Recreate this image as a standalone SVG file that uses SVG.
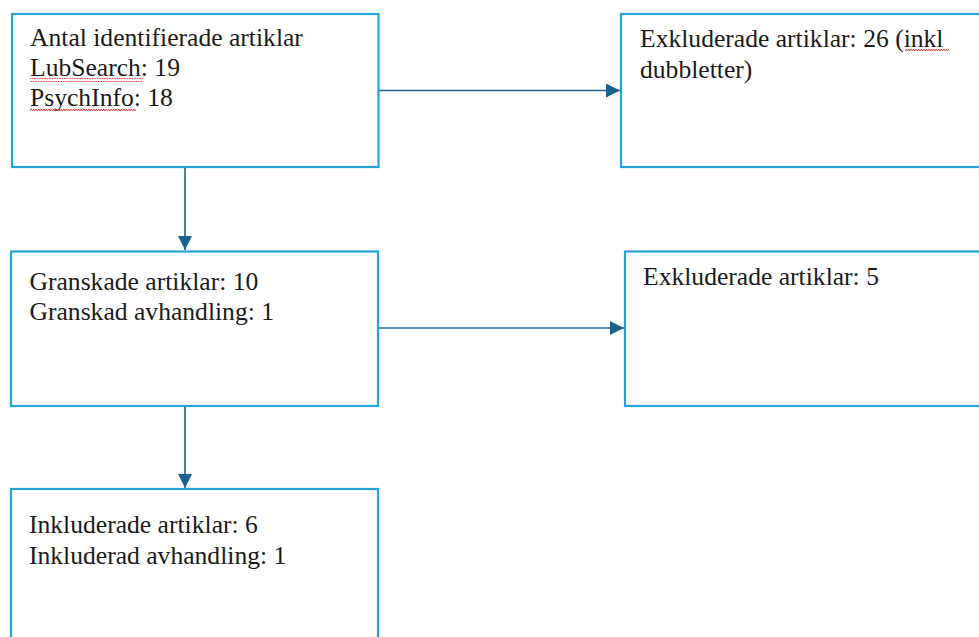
<svg xmlns="http://www.w3.org/2000/svg" width="979" height="637" viewBox="0 0 979 637">
  <style>
    .box { fill: #ffffff; stroke: #22a3db; stroke-width: 2.2; }
    .lbl { font-family: 'Liberation Serif', 'DejaVu Serif', serif; font-size: 25.6px; fill: #1a1a1a; }
    .conn { stroke: #1b628c; stroke-width: 1.6; fill: none; }
  </style>
  <defs>
    <marker id="arrow" markerUnits="userSpaceOnUse" markerWidth="14" markerHeight="14" refX="14" refY="7" orient="auto">
      <path d="M0,0 L14,7 L0,14 z" fill="#1b628c"/>
    </marker>
    <pattern id="wave" width="5" height="4" patternUnits="userSpaceOnUse">
      <path d="M0,3 L1.25,1 L2.5,3 L3.75,1 L5,3" stroke="#e03030" stroke-width="0.9" fill="none"/>
    </pattern>
  </defs>
  <rect width="979" height="637" fill="#ffffff"/>

  <g id="connectors">
    <line class="conn" x1="379" y1="90.5" x2="620" y2="90.5" marker-end="url(#arrow)"/>
    <line class="conn" x1="185" y1="168" x2="185" y2="250" marker-end="url(#arrow)"/>
    <line class="conn" x1="379" y1="328" x2="624" y2="328" marker-end="url(#arrow)"/>
    <line class="conn" x1="185" y1="407" x2="185" y2="488" marker-end="url(#arrow)"/>
  </g>

  <g id="node-identified">
    <rect class="box" x="12" y="14" width="366.5" height="153"/>
    <text class="lbl" font-family="Liberation Serif, serif" x="30" y="46">Antal identifierade artiklar</text>
    <text class="lbl" font-family="Liberation Serif, serif" x="30" y="76">LubSearch: 19</text>
    <text class="lbl" font-family="Liberation Serif, serif" x="30" y="105.5">PsychInfo: 18</text>
    <rect x="30" y="78" width="113" height="4" fill="url(#wave)"/>
    <rect x="30" y="108" width="106" height="4" fill="url(#wave)"/>
  </g>

  <g id="node-excluded-1">
    <rect class="box" x="621" y="14" width="380" height="153"/>
    <text class="lbl" font-family="Liberation Serif, serif" x="640" y="47">Exkluderade artiklar: 26 (inkl</text>
    <text class="lbl" font-family="Liberation Serif, serif" x="640" y="78">dubbletter)</text>
    <rect x="905" y="49" width="44" height="4" fill="url(#wave)"/>
  </g>

  <g id="node-reviewed">
    <rect class="box" x="11" y="251.5" width="367" height="154.5"/>
    <text class="lbl" font-family="Liberation Serif, serif" x="29.5" y="290">Granskade artiklar: 10</text>
    <text class="lbl" font-family="Liberation Serif, serif" x="29.5" y="320">Granskad avhandling: 1</text>
  </g>

  <g id="node-excluded-2">
    <rect class="box" x="625" y="251.5" width="380" height="154.5"/>
    <text class="lbl" font-family="Liberation Serif, serif" x="643" y="285">Exkluderade artiklar: 5</text>
  </g>

  <g id="node-included">
    <rect class="box" x="11" y="489" width="367" height="170"/>
    <text class="lbl" font-family="Liberation Serif, serif" x="29" y="533">Inkluderade artiklar: 6</text>
    <text class="lbl" font-family="Liberation Serif, serif" x="29" y="564">Inkluderad avhandling: 1</text>
  </g>
</svg>
